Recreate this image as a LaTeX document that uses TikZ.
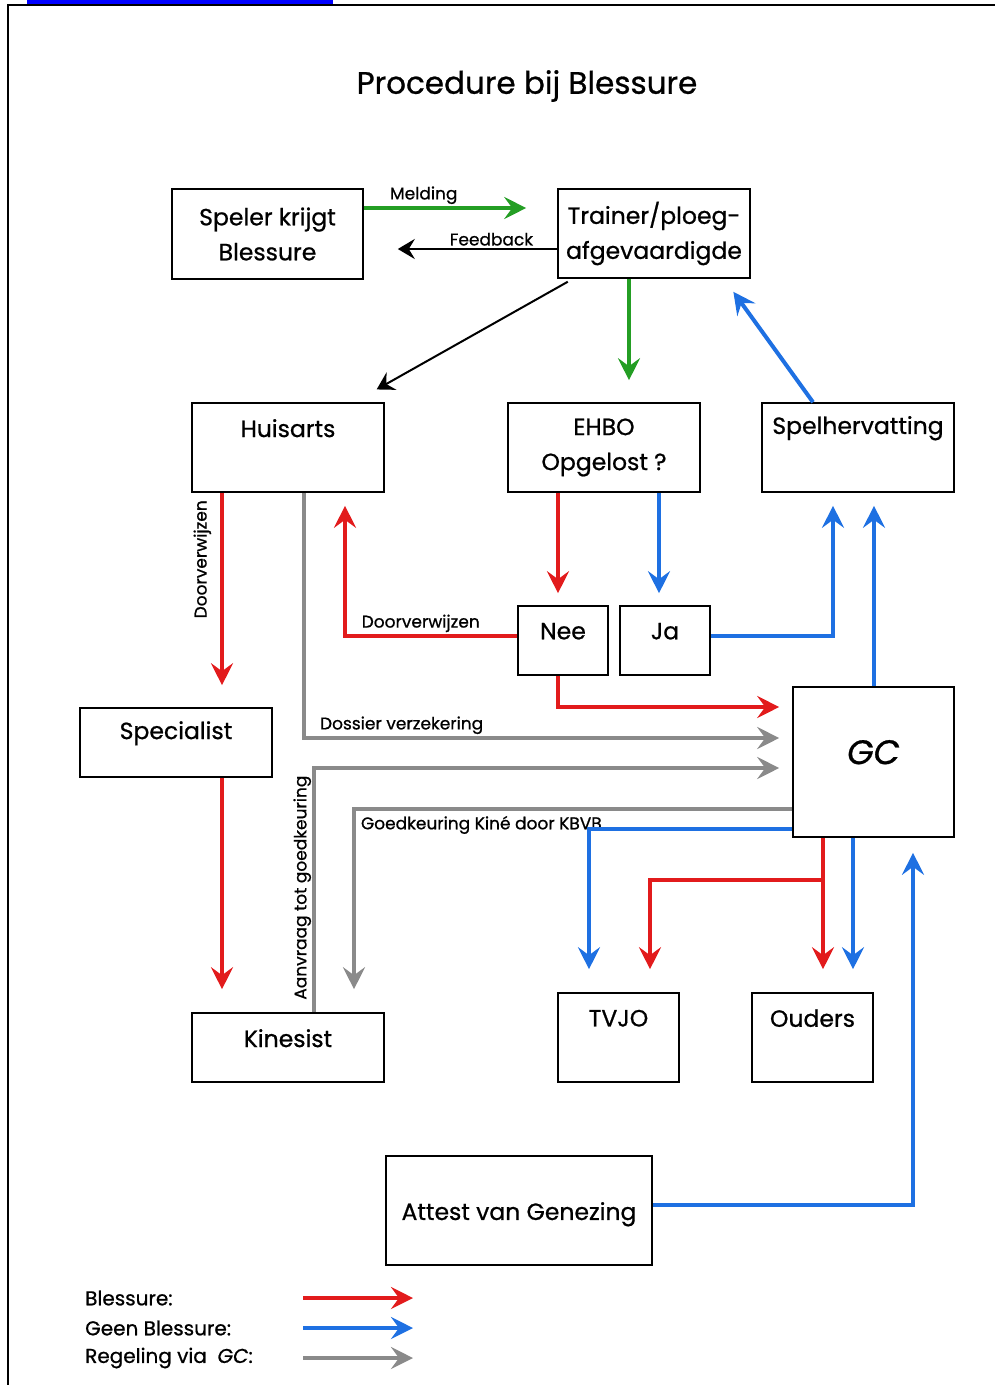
\documentclass[tikz,border=0pt]{standalone}
\usepackage{fontspec}
\setmainfont{Poppins}[FakeBold=0.8]
\usetikzlibrary{arrows.meta}

\definecolor{rood}{RGB}{226,27,28}
\definecolor{blauw}{RGB}{30,112,226}
\definecolor{groen}{RGB}{36,158,36}
\definecolor{grijs}{RGB}{138,138,138}

\tikzset{
  blok/.style={draw, line width=1.6pt, inner sep=0pt, align=center,
    font=\fontsize{23.5}{35}\selectfont},
  bovenaan/.style={label={[anchor=center, yshift=-26pt,
    font=\fontsize{23.5}{26}\selectfont]north:#1}},
  pijl/.style={line width=4pt, -{Stealth[length=22pt, width=22pt, inset=8pt]}},
  pijlrood/.style={pijl, draw=rood},
  pijlblauw/.style={pijl, draw=blauw},
  pijlgroen/.style={pijl, draw=groen},
  pijlgrijs/.style={pijl, draw=grijs},
  pijlzwart/.style={line width=2.8pt, draw=black,
    -{Stealth[length=17pt, width=20pt, inset=6pt]}},
  tekst/.style={font=\fontsize{17}{20}\selectfont, inner sep=2pt},
  legenda/.style={anchor=west, inner sep=0pt, font=\fontsize{20}{24}\selectfont}
}

\begin{document}
\begin{tikzpicture}[x=1pt, y=-1pt]
  \useasboundingbox (0,0) rectangle (995,1385);
  % kader
  \fill[blue] (27,0) rectangle (333,4);
  \draw[line width=1.5pt] (8,1385) -- (8,5) -- (995,5);

  \node[font=\fontsize{31}{36}\selectfont] (titel) at (527,86) {Procedure bij Blessure};

  % blokken
  \node[blok, minimum width=191pt, minimum height=90pt] (speler) at (267.5,234) {Speler krijgt\\Blessure};
  \node[blok, minimum width=192pt, minimum height=89pt] (trainer) at (654,233.5) {Trainer/ploeg-\\afgevaardigde};
  \node[blok, minimum width=192pt, minimum height=89pt, bovenaan=Huisarts] (huisarts) at (288,447.5) {};
  \node[blok, minimum width=192pt, minimum height=89pt] (ehbo) at (604,447.5) {EHBO\\Opgelost ?};
  \node[blok, minimum width=192pt, minimum height=89pt, bovenaan=Spelhervatting] (spelherv) at (858,447.5) {};
  \node[blok, minimum width=90pt, minimum height=69pt, bovenaan=Nee] (nee) at (563,640.5) {};
  \node[blok, minimum width=90pt, minimum height=69pt, bovenaan=Ja] (ja) at (665,640.5) {};
  \node[blok, minimum width=192pt, minimum height=69pt, bovenaan=Specialist] (specialist) at (176,742.5) {};
  \node[blok, minimum width=161pt, minimum height=150pt,
    label={[anchor=center, yshift=-66pt, font=\fontsize{34}{38}\itshape]north:GC}] (gc) at (873.5,762) {};
  \node[blok, minimum width=192pt, minimum height=69pt, bovenaan=Kinesist] (kinesist) at (288,1047.5) {};
  \node[blok, minimum width=121pt, minimum height=89pt, bovenaan=TVJO] (tvjo) at (618.5,1037.5) {};
  \node[blok, minimum width=121pt, minimum height=89pt, bovenaan=Ouders] (ouders) at (812.5,1037.5) {};
  \node[blok, minimum width=266pt, minimum height=109pt,
    label={[anchor=center, yshift=-59pt, font=\fontsize{23.5}{26}\selectfont]north:Attest van Genezing}] (attest) at (519,1210.5) {};

  % bovenste rij
  \draw[pijlgroen, shorten >=31pt] (speler.east |- 0,208) -- (trainer.west |- 0,208)
    node[tekst, pos=0.31, above] {Melding};
  \draw[pijlzwart, shorten >=34pt] (trainer.west |- 0,249) -- (speler.east |- 0,249)
    node[tekst, pos=0.34, above] {Feedback};
  \draw[pijlzwart, line width=2pt, shorten <=6pt, shorten >=26pt]
    (573,0 |- trainer.south) -- (354,0 |- huisarts.north);
  \draw[pijlgroen, shorten >=22pt] (629,0 |- trainer.south) -- (629,0 |- ehbo.north);
  \draw[pijlblauw, shorten >=16pt] (813,0 |- spelherv.north) -- (724,0 |- trainer.south);

  % huisarts en ehbo
  \draw[pijlrood, shorten >=22pt] (222,0 |- huisarts.south) -- (222,0 |- specialist.north)
    node[tekst, pos=0.31, rotate=90, anchor=south, inner sep=9pt] {Doorverwijzen};
  \draw[pijlgrijs, shorten >=13pt] (304,0 |- huisarts.south) |- (gc.west |- 0,738)
    node[tekst, pos=0.6, above] {Dossier verzekering};
  \draw[pijlrood, shorten >=12pt] (558,0 |- ehbo.south) -- (558,0 |- nee.north);
  \draw[pijlblauw, shorten >=12pt] (659,0 |- ehbo.south) -- (659,0 |- ja.north);

  % nee en ja
  \draw[pijlrood, shorten >=13pt] (nee.west |- 0,636) -| (345,0 |- huisarts.south)
    node[tekst, pos=0.28, above] {Doorverwijzen};
  \draw[pijlrood, shorten >=13pt] (558,0 |- nee.south) |- (gc.west |- 0,707);
  \draw[pijlblauw, shorten >=13pt] (ja.east |- 0,636) -| (833,0 |- spelherv.south);
  \draw[pijlblauw, shorten >=13pt] (874,0 |- gc.north) -- (874,0 |- spelherv.south);

  % specialist en kinesist
  \draw[pijlrood, shorten >=23pt] (222,0 |- specialist.south) -- (222,0 |- kinesist.north);
  \draw[pijlgrijs, shorten >=13pt] (314,0 |- kinesist.north) |- (gc.west |- 0,768)
    node[tekst, pos=0.255, rotate=90, anchor=south, inner sep=1pt] {Aanvraag tot goedkeuring};
  \draw[pijlgrijs, shorten >=23pt] (gc.west |- 0,809) -| (354,0 |- kinesist.north)
    node[tekst, pos=0.5, anchor=north west, inner sep=5pt] {Goedkeuring Kiné door KBVB};

  % gc naar tvjo en ouders
  \draw[pijlblauw, shorten >=23pt] (gc.west |- 0,829) -| (589,0 |- tvjo.north);
  \draw[pijlrood, shorten >=23pt] (823,0 |- gc.south) -- (823,0 |- ouders.north);
  \path (823,880) coordinate (splitsing);
  \draw[pijlrood, shorten >=23pt] (splitsing) -| (650,0 |- tvjo.north);
  \draw[pijlblauw, shorten >=23pt] (853,0 |- gc.south) -- (853,0 |- ouders.north);
  \draw[pijlblauw, shorten >=15pt] (attest.east |- 0,1205) -| (913,0 |- gc.south);

  % legenda
  \node[legenda] (lgrood) at (85,1298) {Blessure:};
  \node[legenda] (lgblauw) at (85,1328) {Geen Blessure:};
  \node[legenda] (lggrijs) at (85,1358) {Regeling via \ \textit{GC}:};
  \draw[pijlrood] (303,0 |- lgrood.west) -- (413,0 |- lgrood.west);
  \draw[pijlblauw] (303,0 |- lgblauw.west) -- (413,0 |- lgblauw.west);
  \draw[pijlgrijs] (303,0 |- lggrijs.west) -- (413,0 |- lggrijs.west);

\end{tikzpicture}
\end{document}
